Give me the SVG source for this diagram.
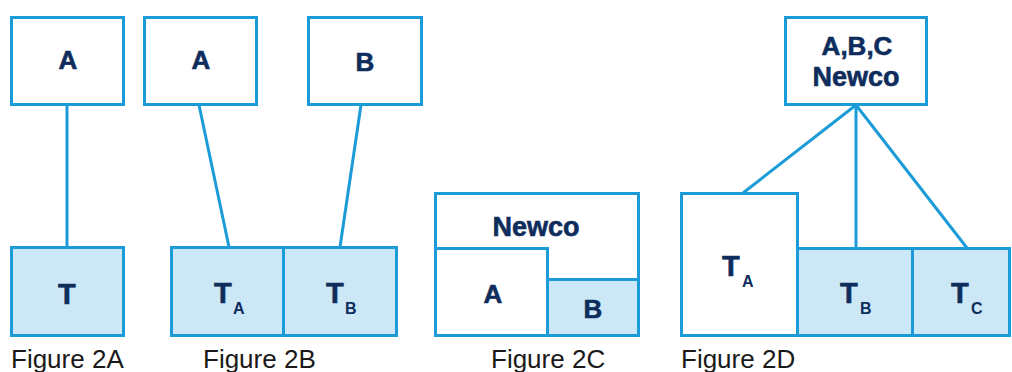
<svg xmlns="http://www.w3.org/2000/svg" width="1012" height="372" viewBox="0 0 1012 372">
<style>
.box{fill:#ffffff;stroke:#1b9bd7;stroke-width:3}
.sh{fill:#cce8f6;stroke:#1b9bd7;stroke-width:3}
.ln{stroke:#1b9bd7;stroke-width:3;fill:none}
.t{font-family:"Liberation Sans",Arial,sans-serif;font-weight:bold;fill:#0f2d5c;stroke:#0f2d5c;stroke-width:0.6;font-size:26px;text-anchor:middle}
.big{font-family:"Liberation Sans",Arial,sans-serif;font-weight:bold;fill:#0f2d5c;stroke:#0f2d5c;stroke-width:0.6;font-size:29px}
.sub{font-family:"Liberation Sans",Arial,sans-serif;font-weight:bold;fill:#0f2d5c;font-size:16px}
.cap{font-family:"Liberation Sans",Arial,sans-serif;fill:#1a1a1a;font-size:26px}
</style>
<rect width="1012" height="372" fill="#ffffff"/>
<g id="connectors">
<line class="ln" x1="67" y1="105" x2="67" y2="247"/>
<line class="ln" x1="199" y1="105" x2="229" y2="247"/>
<line class="ln" x1="361" y1="105" x2="340" y2="247"/>
<line class="ln" x1="856" y1="105" x2="743" y2="193"/>
<line class="ln" x1="856" y1="105" x2="856" y2="248"/>
<line class="ln" x1="856" y1="105" x2="967" y2="248"/>
</g>
<g id="fig2a-A"><rect class="box" x="11.5" y="17.5" width="112" height="87"/><text class="t" x="68" y="69">A</text></g>
<g id="fig2a-T"><rect class="sh" x="11.5" y="247.5" width="112" height="88"/><text class="big" x="58" y="304">T</text></g>
<g id="fig2b-A"><rect class="box" x="144.5" y="17.5" width="112" height="87"/><text class="t" x="201" y="69">A</text></g>
<g id="fig2b-B"><rect class="box" x="308.5" y="17.5" width="113" height="87"/><text class="t" x="365" y="71">B</text></g>
<g id="fig2b-TA"><rect class="sh" x="171.5" y="247.5" width="112" height="88"/><text class="big" x="214" y="303">T</text><text class="sub" x="233" y="314">A</text></g>
<g id="fig2b-TB"><rect class="sh" x="283.5" y="247.5" width="113" height="88"/><text class="big" x="326" y="303">T</text><text class="sub" x="345" y="314">B</text></g>
<g id="fig2c-Newco"><rect class="box" x="435.5" y="193.5" width="203" height="142"/><text class="t" x="536" y="236" style="font-size:27px">Newco</text></g>
<g id="fig2c-A"><rect class="box" x="435.5" y="248.5" width="112" height="87"/><text class="t" x="493" y="303">A</text></g>
<g id="fig2c-B"><rect class="sh" x="547.5" y="279.5" width="91" height="56"/><text class="t" x="593" y="318">B</text></g>
<g id="fig2d-Newco"><rect class="box" x="785.5" y="17.5" width="141" height="87"/><text class="t" x="857" y="55" style="font-size:26px">A,B,C</text><text class="t" x="856" y="86" style="font-size:27px">Newco</text></g>
<g id="fig2d-TA"><rect class="box" x="681.5" y="193.5" width="116" height="142"/><text class="big" x="722" y="276">T</text><text class="sub" x="742" y="287">A</text></g>
<g id="fig2d-TB"><rect class="sh" x="797.5" y="248.5" width="115" height="87"/><text class="big" x="840" y="303">T</text><text class="sub" x="860" y="314">B</text></g>
<g id="fig2d-TC"><rect class="sh" x="912.5" y="248.5" width="97" height="87"/><text class="big" x="951" y="303">T</text><text class="sub" x="971" y="314">C</text></g>
<g id="captions">
<text class="cap" x="11" y="368">Figure 2A</text>
<text class="cap" x="203" y="368">Figure 2B</text>
<text class="cap" x="491" y="368">Figure 2C</text>
<text class="cap" x="681" y="368">Figure 2D</text>
</g>
</svg>
